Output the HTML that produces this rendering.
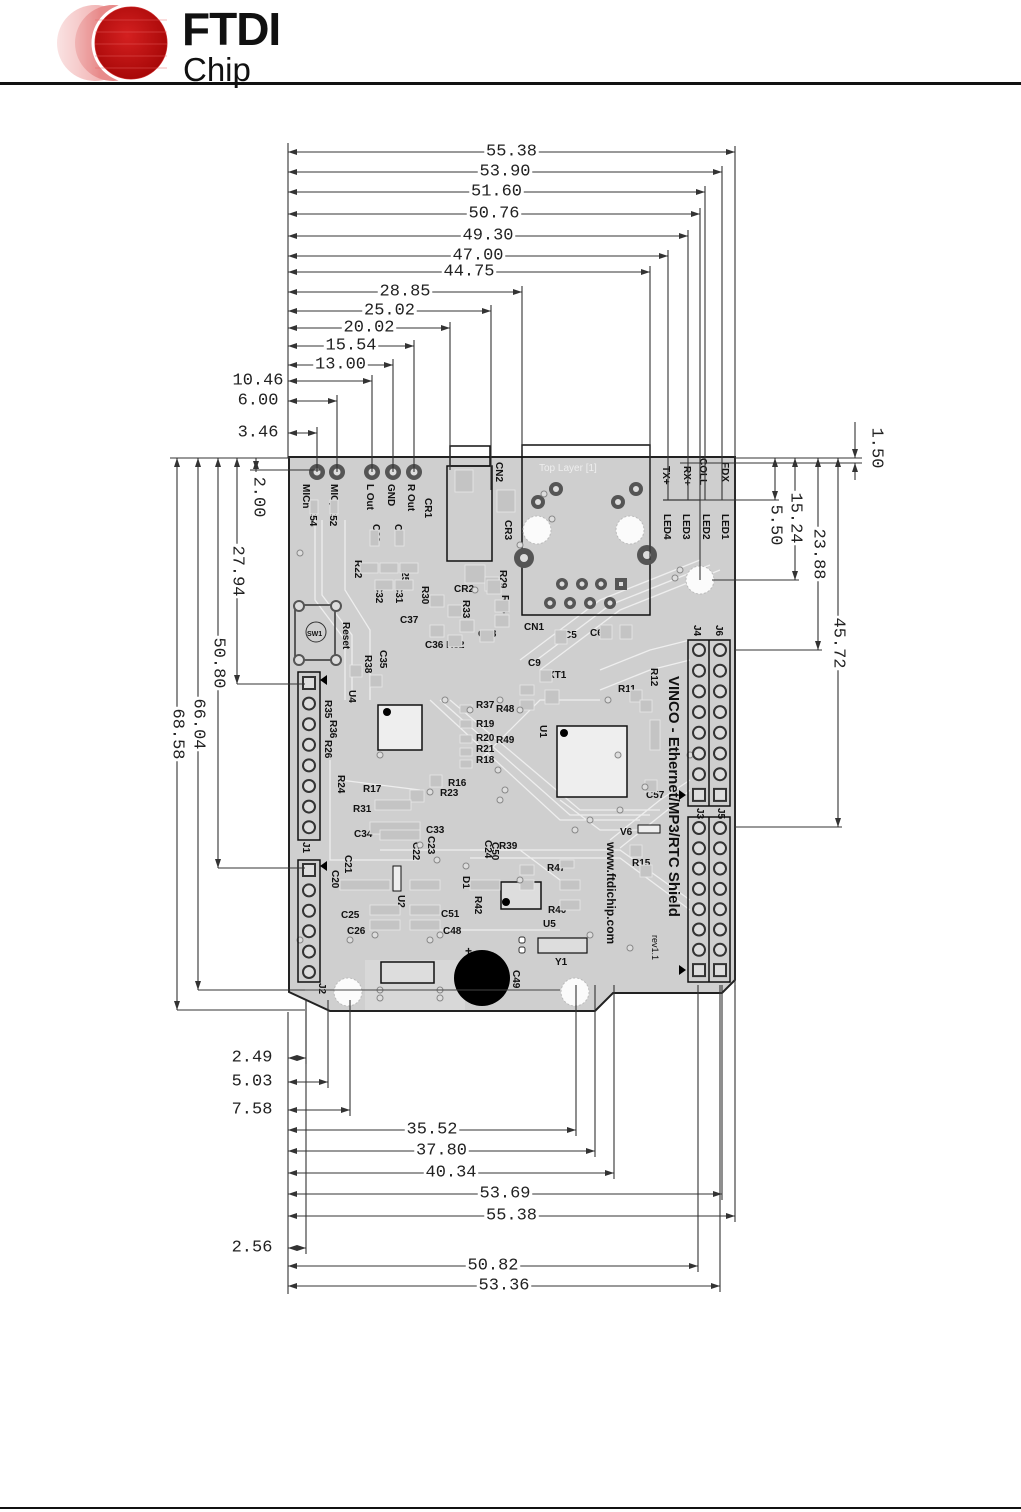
<!DOCTYPE html>
<html><head><meta charset="utf-8"><style>
html,body{margin:0;padding:0;background:#fff;width:1021px;height:1512px;overflow:hidden}
svg{display:block}
</style></head><body>
<svg id="s" width="1021" height="1512" viewBox="0 0 1021 1512" xmlns="http://www.w3.org/2000/svg" font-family="Liberation Sans, sans-serif">
<defs>
<radialGradient id="rg" cx="0.45" cy="0.4" r="0.6"><stop offset="0" stop-color="#d42020"/><stop offset="1" stop-color="#a80808"/></radialGradient>
<linearGradient id="fade" x1="0" x2="1"><stop offset="0" stop-color="#fff" stop-opacity="1"/><stop offset="1" stop-color="#fff" stop-opacity="0"/></linearGradient>
</defs>
<g>
<circle cx="95" cy="43" r="38" fill="#f2b5b5"/>
<circle cx="113" cy="43" r="38" fill="#e88a8a"/>
<circle cx="131" cy="43" r="38" fill="#d63a3a" stroke="#fff" stroke-width="3"/>
<rect x="30" y="0" width="70" height="90" fill="url(#fade)"/>
<circle cx="131" cy="43" r="36" fill="url(#rg)"/>
<g stroke="#e86060" stroke-width="0.8" opacity="0.6">
<line x1="95" y1="20" x2="167" y2="20"/><line x1="95" y1="32" x2="167" y2="32"/><line x1="95" y1="44" x2="167" y2="44"/><line x1="95" y1="56" x2="167" y2="56"/><line x1="95" y1="68" x2="167" y2="68"/>
</g>
<text x="182" y="45" font-size="46" font-weight="bold" fill="#111" letter-spacing="-1">FTDI</text>
<text x="183" y="81" font-size="33" fill="#111">Chip</text>
</g>
<rect x="0" y="82" width="1021" height="3" fill="#111"/>
<rect x="0" y="1507" width="1021" height="2" fill="#111"/>
<g id="board"></g>
<g id="dims"></g>
</svg>
<script>
(function(){
var NS="http://www.w3.org/2000/svg";
function el(parent,tag,attrs,txt){var e=document.createElementNS(NS,tag);for(var k in attrs)e.setAttribute(k,attrs[k]);if(txt!==undefined)e.textContent=txt;parent.appendChild(e);return e;}
var B=document.getElementById('board'), D=document.getElementById('dims');
el(B,'polygon',{points:"289,457 735,457 735,980 722,993 613,993 595,1011 330,1011 289,992",fill:"#cfcfcf",stroke:"#222","stroke-width":"2"});
var tr=[
"M315,520 L315,600 L345,640 L345,700","M322,520 L322,595 L352,635 L352,700","M345,520 L345,590 L370,630 L370,700",
"M520,660 L600,600 L700,560","M530,665 L610,605 L710,565","M540,670 L620,610 L720,570",
"M430,700 L560,820 L640,820","M440,700 L570,815 L650,815","M450,700 L580,810 L660,810",
"M330,760 L330,860 L420,860","M470,850 L620,850 L690,900","M470,858 L620,858 L690,910",
"M560,800 L600,830 L640,830","M600,670 L650,650 L690,640","M600,690 L650,670 L690,660",
"M380,850 L520,850 L560,880","M480,760 L540,700 L600,700","M340,780 L420,790",
"M610,840 L660,800 L690,780","M620,848 L670,808 L690,790","M440,930 L560,930"
];
tr.forEach(function(d){el(B,'path',{d:d,fill:"none",stroke:"#eee","stroke-width":"1.3"});});
[[317,472],[337,472],[372,472],[393,472],[414,472]].forEach(function(p){el(B,'circle',{cx:p[0],cy:p[1],r:8,fill:"#555"});el(B,'circle',{cx:p[0],cy:p[1],r:3.5,fill:"#ddd"});});
function rt(x,y,t,fs,ang){return el(B,'text',{x:0,y:0,"font-size":fs||10,fill:"#111",transform:"translate("+x+","+y+") rotate("+(ang===undefined?90:ang)+")","font-weight":"bold"},t);}
rt(303,484,"MICn");rt(331,484,"MICp");rt(367,484,"L Out");rt(388,484,"GND");rt(408,484,"R Out");
rt(310,508,"C54");rt(330,508,"C52");rt(373,524,"C29");rt(395,524,"C30");
rt(355,560,"R22");rt(402,564,"R25");rt(376,585,"C32");rt(396,585,"C31");
rt(425,498,"CR1");rt(496,462,"CN2");rt(505,520,"CR3");rt(500,570,"R29");rt(502,595,"R34");rt(422,586,"R30");rt(463,600,"R33");
rt(343,622,"Reset");rt(365,655,"R38");rt(380,650,"C35");
rt(349,690,"U4");rt(325,700,"R35");rt(330,720,"R36");rt(325,740,"R26");rt(338,775,"R24");
rt(663,466,"TX+");rt(684,466,"RX+");rt(700,458,"COLL");rt(722,462,"FDX");
rt(664,514,"LED4");rt(683,514,"LED3");rt(703,514,"LED2");rt(722,514,"LED1");
rt(694,625,"J4");rt(716,625,"J6");rt(651,668,"R12");rt(540,725,"U1");rt(697,808,"J3");rt(718,808,"J5");
rt(485,840,"C24");rt(345,855,"C21");rt(332,870,"C20");rt(413,842,"C22");rt(428,836,"C23");rt(463,876,"D1");rt(475,896,"R42");rt(398,895,"U2");rt(367,962,"U3");rt(513,970,"C49");rt(319,983,"J2");rt(303,842,"J1");rt(492,842,"C50");
function tx(x,y,t,fs){el(B,'text',{x:x,y:y,"font-size":fs||10,fill:"#111","font-weight":"bold"},t);}
tx(454,592,"CR2");tx(400,623,"C37");tx(425,648,"C36 R32");tx(478,637,"C38");tx(524,630,"CN1");tx(528,666,"C9");tx(548,678,"XT1");tx(496,712,"R48");tx(476,708,"R37");tx(476,727,"R19");tx(476,741,"R20");tx(496,743,"R49");tx(476,752,"R21");tx(476,763,"R18");tx(618,692,"R11");
tx(448,786,"R16");tx(440,796,"R23");tx(363,792,"R17");tx(353,812,"R31");tx(354,837,"C34");tx(426,833,"C33");tx(499,849,"R39");tx(547,871,"R47");tx(548,913,"R40");tx(543,927,"U5");tx(555,965,"Y1");tx(341,918,"C25");tx(347,934,"C26");tx(441,917,"C51");tx(443,934,"C48");tx(620,835,"V6");tx(632,866,"R15");tx(646,798,"C57");tx(564,638,"C5");tx(590,636,"C6");tx(465,955,"+",12);
el(B,'text',{x:539,y:471,"font-size":10,fill:"#eee"},"Top Layer [1]");
el(B,'text',{x:0,y:0,"font-size":15,"font-weight":"bold",fill:"#111",transform:"translate(669,676) rotate(90)"},"VINCO - Ethernet/MP3/RTC Shield");
el(B,'text',{x:0,y:0,"font-size":12,"font-weight":"bold",fill:"#111",transform:"translate(607,842) rotate(90)"},"www.ftdichip.com");
el(B,'text',{x:0,y:0,"font-size":9,fill:"#111",transform:"translate(652,935) rotate(90)"},"rev1.1");
el(B,'rect',{x:522,y:445,width:128,height:170,fill:"none",stroke:"#111","stroke-width":"1.5"});
el(B,'rect',{x:450,y:446,width:40,height:20,fill:"none",stroke:"#111","stroke-width":"1.5"});
el(B,'rect',{x:447,y:466,width:45,height:95,fill:"none",stroke:"#111","stroke-width":"1.5"});
[[524,558],[647,555]].forEach(function(p){el(B,'circle',{cx:p[0],cy:p[1],r:10,fill:"#555"});el(B,'circle',{cx:p[0],cy:p[1],r:4,fill:"#ddd"});});
[[556,489],[636,489],[538,502],[618,502]].forEach(function(p){el(B,'circle',{cx:p[0],cy:p[1],r:7,fill:"#555"});el(B,'circle',{cx:p[0],cy:p[1],r:3,fill:"#ddd"});});
[[537,530],[630,530],[700,580],[348,992],[575,992]].forEach(function(p){el(B,'circle',{cx:p[0],cy:p[1],r:14,fill:"#fbfbfb",stroke:"#bbb","stroke-width":"1","stroke-dasharray":"2 2"});});
[562,582,601].forEach(function(x){el(B,'circle',{cx:x,cy:584,r:6,fill:"#555"});el(B,'circle',{cx:x,cy:584,r:2.5,fill:"#ddd"});});
[550,570,590,610].forEach(function(x){el(B,'circle',{cx:x,cy:603,r:6,fill:"#555"});el(B,'circle',{cx:x,cy:603,r:2.5,fill:"#ddd"});});
el(B,'rect',{x:615,y:578,width:12,height:12,fill:"#555"});el(B,'rect',{x:619,y:582,width:4,height:4,fill:"#ddd"});
el(B,'line',{x1:663,y1:500,x2:735,y2:500,stroke:"#111"});
el(B,'rect',{x:295,y:605,width:40,height:55,fill:"none",stroke:"#333","stroke-width":"1.5"});
el(B,'circle',{cx:316,cy:632,r:10,fill:"none",stroke:"#333"});tx(307,636,"SW1",7);
[[299,606],[336,606],[299,660],[336,660]].forEach(function(p){el(B,'circle',{cx:p[0],cy:p[1],r:5,fill:"#ddd",stroke:"#555","stroke-width":"2"});});
el(B,'rect',{x:378,y:705,width:44,height:45,fill:"#eee",stroke:"#111","stroke-width":"1.5"});el(B,'circle',{cx:387,cy:712,r:4,fill:"#000"});
el(B,'rect',{x:557,y:726,width:70,height:71,fill:"#eee",stroke:"#111","stroke-width":"1.5"});el(B,'circle',{cx:564,cy:733,r:4,fill:"#000"});
el(B,'rect',{x:501,y:882,width:40,height:27,fill:"#ddd",stroke:"#111","stroke-width":"1.5"});el(B,'circle',{cx:506,cy:902,r:4,fill:"#000"});
el(B,'rect',{x:538,y:938,width:49,height:15,fill:"#ddd",stroke:"#111","stroke-width":"1.2"});
el(B,'rect',{x:638,y:825,width:22,height:8,fill:"#eee",stroke:"#111"});
el(B,'rect',{x:393,y:866,width:8,height:25,fill:"#eee",stroke:"#111"});
el(B,'rect',{x:365,y:960,width:100,height:50,fill:"#d8d8d8"});
el(B,'rect',{x:381,y:962,width:53,height:21,fill:"#ddd",stroke:"#111","stroke-width":"1.5"});
el(B,'circle',{cx:482,cy:978,r:28,fill:"#000"});
[[522,940],[522,950]].forEach(function(p){el(B,'rect',{x:p[0]-3,y:p[1]-3,width:6,height:6,rx:2,fill:"#fff",stroke:"#333"});});
var pads=[[370,530,9,16],[395,530,9,16],[360,563,18,10],[380,563,18,10],[400,563,18,10],[375,580,18,10],[395,580,18,10],[455,470,18,22],[497,490,18,22],[465,565,20,18],[485,577,14,14],[430,595,14,12],[448,605,14,12],[460,620,14,12],[430,625,14,12],[448,635,14,12],[487,580,14,14],[495,600,14,12],[495,615,14,12],[480,630,14,12],[555,630,12,14],[600,625,12,14],[620,625,12,14],[330,500,8,14],[310,500,8,14],[350,665,12,12],[370,675,12,12],[540,670,12,12],[520,685,14,10],[520,700,14,10],[545,690,14,14],[460,705,12,8],[460,720,12,8],[460,735,12,8],[460,748,12,8],[460,760,12,8],[430,775,12,12],[410,790,14,12],[375,800,36,10],[370,822,50,12],[380,830,40,10],[630,690,12,12],[640,700,12,12],[650,720,10,30],[645,780,12,12],[340,880,50,10],[410,880,30,10],[370,905,30,10],[410,905,30,10],[370,920,30,10],[410,920,30,10],[470,880,30,10],[520,865,14,10],[520,880,14,10],[560,880,20,10],[560,900,20,10],[560,860,14,8],[630,845,12,12],[640,865,12,12]];
pads.forEach(function(p){el(B,'rect',{x:p[0],y:p[1],width:p[2],height:p[3],fill:"#c4c4c4",stroke:"#e8e8e8","stroke-width":"0.8"});});
var vias=[[300,553],[475,590],[544,494],[552,519],[520,545],[675,578],[680,570],[445,700],[470,710],[500,700],[520,710],[608,700],[618,755],[590,820],[575,830],[620,810],[645,787],[690,755],[500,800],[498,770],[505,790],[420,845],[437,860],[466,866],[520,880],[590,935],[630,948],[350,940],[375,935],[430,940],[440,935],[300,940],[380,998],[440,998],[380,990],[440,990],[430,792],[380,755]];
vias.forEach(function(p){el(B,'circle',{cx:p[0],cy:p[1],r:3,fill:"#ddd",stroke:"#888","stroke-width":"1"});});
function header(x,y0,n,pitch,sq){for(var i=0;i<n;i++){var y=y0+i*pitch;if(i===sq){el(B,'rect',{x:x-6,y:y-6,width:12,height:12,fill:"#ddd",stroke:"#333","stroke-width":"2"});}else{el(B,'circle',{cx:x,cy:y,r:6,fill:"#ddd",stroke:"#333","stroke-width":"2"});}}}
el(B,'rect',{x:298,y:672,width:22,height:168,fill:"none",stroke:"#111","stroke-width":"1.5"});
header(309,683,8,20.6,0);
el(B,'rect',{x:298,y:860,width:22,height:122,fill:"none",stroke:"#111","stroke-width":"1.5"});
header(309,870,6,20.4,0);
el(B,'rect',{x:688,y:640,width:42,height:166,fill:"none",stroke:"#111","stroke-width":"1.5"});
el(B,'line',{x1:709,y1:640,x2:709,y2:806,stroke:"#111","stroke-width":"1.5"});
header(699,650,8,20.7,7);header(720,650,8,20.7,7);
el(B,'rect',{x:688,y:817,width:42,height:165,fill:"none",stroke:"#111","stroke-width":"1.5"});
el(B,'line',{x1:709,y1:817,x2:709,y2:982,stroke:"#111","stroke-width":"1.5"});
header(699,828,8,20.3,7);header(720,828,8,20.3,7);
[[325,680],[325,866]].forEach(function(p){el(B,'polygon',{points:(p[0]-5)+","+p[1]+" "+(p[0]+2)+","+(p[1]-5)+" "+(p[0]+2)+","+(p[1]+5),fill:"#000"});});
[[681,795],[681,970]].forEach(function(p){el(B,'polygon',{points:(p[0]+5)+","+p[1]+" "+(p[0]-2)+","+(p[1]-5)+" "+(p[0]-2)+","+(p[1]+5),fill:"#000"});});
el(B,'line',{x1:300,y1:990,x2:560,y2:990,stroke:"#444","stroke-width":"1"});

var LC="#333";
function line(x1,y1,x2,y2){el(D,'line',{x1:x1,y1:y1,x2:x2,y2:y2,stroke:LC,"stroke-width":"1.1"});}
function arrowH(x,y,dir){el(D,'polygon',{points:x+","+y+" "+(x-dir*9)+","+(y-3)+" "+(x-dir*9)+","+(y+3),fill:LC});}
function arrowV(x,y,dir){el(D,'polygon',{points:x+","+y+" "+(x-3)+","+(y-dir*9)+" "+(x+3)+","+(y-dir*9),fill:LC});}
function label(x,y,t,rot){
 var w=t.length*10.5+2;
 if(rot) el(D,'rect',{x:x-9,y:y-w/2,width:18,height:w,fill:"#fff"}); else el(D,'rect',{x:x-w/2,y:y-9,width:w,height:18,fill:"#fff"});
 el(D,'text',{x:0,y:0,"font-size":17,"font-family":"Liberation Mono, monospace",fill:"#222","text-anchor":"middle","dominant-baseline":"central",transform:"translate("+x+","+y+")"+(rot?" rotate(90)":"")},t);}
line(288,143,288,458);line(288,1012,288,1294);
var topD=[["55.38",152,735],["53.90",172,722],["51.60",192,705],["50.76",214,700],["49.30",236,688],["47.00",256,668],["44.75",272,650],["28.85",292,522],["25.02",311,491],["20.02",328,450],["15.54",346,414],["13.00",365,393],["10.46",381,372,1],["6.00",401,337,1],["3.46",433,317,1]];
var extEnd={735:990,722:500,705:500,700:580,688:500,668:500,650:560,522:450,491:490,450:470,414:472,393:472,372:472,337:472,317:472};
topD.forEach(function(d){var t=d[0],y=d[1],x2=d[2],o=d[3];line(288,y,x2,y);arrowH(288,y,-1);arrowH(x2,y,1);line(x2,y-6,x2,extEnd[x2]||458);
 if(o) label(258,y,t); else label((288+x2)/2,y,t);});
var botD=[["2.49",1058,306,1],["5.03",1082,328,1],["7.58",1110,350,1],["35.52",1130,576],["37.80",1151,595],["40.34",1173,614],["53.69",1194,722],["55.38",1216,735],["2.56",1248,306,1],["50.82",1266,698],["53.36",1286,720]];
botD.forEach(function(d){var t=d[0],y=d[1],x2=d[2],o=d[3];line(288,y,x2,y);arrowH(288,y,-1);arrowH(x2,y,1);line(x2,y+6,x2,o?1000:985);
 if(o) label(252,y,t); else label((288+x2)/2,y,t);});
var lv=[["68.58",177,1010],["66.04",198,990],["50.80",218,868],["27.94",237,684]];
line(170,458,290,458);
lv.forEach(function(d){var t=d[0],x=d[1],y2=d[2];line(x,458,x,y2);arrowV(x,458,-1);arrowV(x,y2,1);line(x,y2,305,y2);label(x,(458+y2)/2,t,1);});
line(256,458,256,472);arrowV(256,460,-1);arrowV(256,470,1);line(250,470,320,470);label(258,497,"2.00",1);
line(735,458,862,458);line(680,463,862,463);
var rv=[["5.50",775,500,700,525],["15.24",795,580,712,518],["23.88",818,650,735,554],["45.72",838,827,735,643]];
rv.forEach(function(d){var t=d[0],x=d[1],y2=d[2],xs=d[3],ly=d[4];line(x,458,x,y2);arrowV(x,458,-1);arrowV(x,y2,1);line(xs,y2,x+4,y2);label(x,ly,t,1);});
line(855,422,855,458);arrowV(855,458,1);line(855,463,855,480);arrowV(855,463,-1);label(876,448,"1.50",1);
})();
</script>
</body></html>
